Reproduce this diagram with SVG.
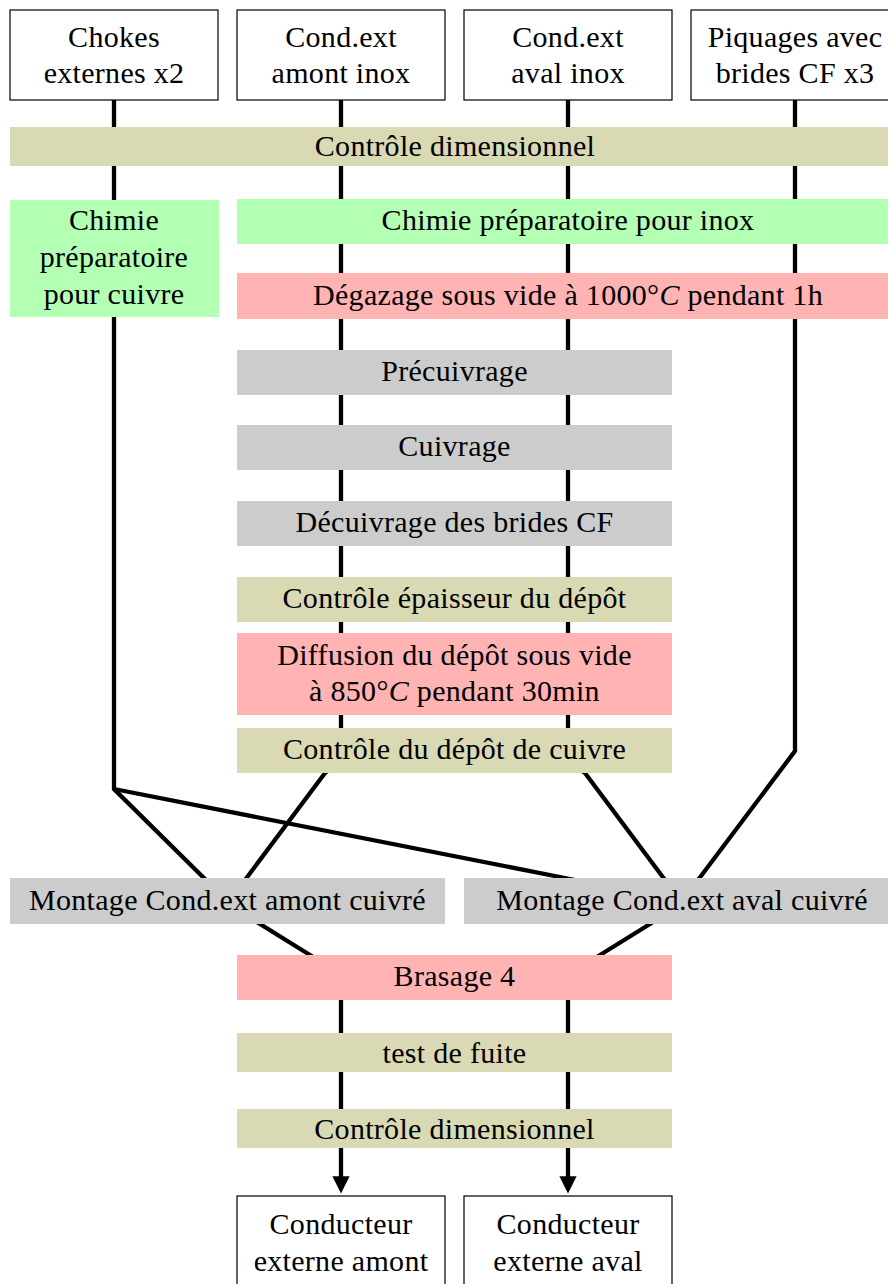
<svg xmlns="http://www.w3.org/2000/svg" width="888" height="1284" viewBox="0 0 888 1284" font-family="Liberation Serif" font-size="30" text-anchor="middle" letter-spacing="0.3">
<style>
.io{fill:#fff;stroke:#000;stroke-width:1.2}
.tan{fill:#d9d9b3}
.grn{fill:#b3ffb3}
.red{fill:#ffb3b3}
.gry{fill:#cccccc}
.ln{fill:none;stroke:#000;stroke-width:4.3;stroke-linejoin:miter}
</style>
<defs>
<marker id="ah" viewBox="0 0 10 10" refX="5.6" refY="5" markerWidth="5.3" markerHeight="4" markerUnits="strokeWidth" orient="auto">
<path d="M0,0 L10,5 L0,10 Z" fill="#000"/>
</marker>
</defs>
<rect width="888" height="1284" fill="#fff"/>
<g id="connectors">
<polyline class="ln" points="114,100 114,789 210,884"/>
<polyline class="ln" points="114,789 575,880"/>
<polyline class="ln" points="341,100 341,760 325,773 242,884"/>
<polyline class="ln" points="568,100 568,760 585,773 668,884"/>
<polyline class="ln" points="795,100 795,751 695,884"/>
<line class="ln" x1="252" y1="919" x2="318" y2="960"/>
<line class="ln" x1="658" y1="919" x2="592" y2="960"/>
<line class="ln" x1="341" y1="995" x2="341" y2="1186" marker-end="url(#ah)"/>
<line class="ln" x1="568" y1="995" x2="568" y2="1186" marker-end="url(#ah)"/>
</g>
<g id="n1"><rect class="io" x="10" y="10" width="208" height="90"/><text style="font-family:'Liberation Serif',serif !important" x="114" y="47">Chokes</text><text style="font-family:'Liberation Serif',serif !important" x="114" y="83">externes x2</text></g>
<g id="n2"><rect class="io" x="237" y="10" width="208" height="90"/><text style="font-family:'Liberation Serif',serif !important" x="341" y="47">Cond.ext</text><text style="font-family:'Liberation Serif',serif !important" x="341" y="83">amont inox</text></g>
<g id="n3"><rect class="io" x="464" y="10" width="208" height="90"/><text style="font-family:'Liberation Serif',serif !important" x="568" y="47">Cond.ext</text><text style="font-family:'Liberation Serif',serif !important" x="568" y="83">aval inox</text></g>
<g id="n4"><rect class="io" x="691" y="10" width="208" height="90"/><text style="font-family:'Liberation Serif',serif !important" x="795" y="47">Piquages avec</text><text style="font-family:'Liberation Serif',serif !important" x="795" y="83">brides CF x3</text></g>
<g id="ctrl1"><rect class="tan" x="10" y="127" width="890" height="39"/><text style="font-family:'Liberation Serif',serif !important" x="455" y="156">Contrôle dimensionnel</text></g>
<g id="chcu"><rect class="grn" x="10" y="200" width="209" height="117"/><text style="font-family:'Liberation Serif',serif !important" x="114" y="230">Chimie</text><text style="font-family:'Liberation Serif',serif !important" x="114" y="267">préparatoire</text><text style="font-family:'Liberation Serif',serif !important" x="114" y="304">pour cuivre</text></g>
<g id="chinox"><rect class="grn" x="237" y="199" width="663" height="45"/><text style="font-family:'Liberation Serif',serif !important" x="568" y="230">Chimie préparatoire pour inox</text></g>
<g id="degaz"><rect class="red" x="237" y="273" width="663" height="46"/><text style="font-family:'Liberation Serif',serif !important" x="568" y="305">Dégazage sous vide à 1000°<tspan font-style="italic">C</tspan> pendant 1h</text></g>
<g id="precu"><rect class="gry" x="237" y="350" width="435" height="45"/><text style="font-family:'Liberation Serif',serif !important" x="454.5" y="381">Précuivrage</text></g>
<g id="cuiv"><rect class="gry" x="237" y="425" width="435" height="45"/><text style="font-family:'Liberation Serif',serif !important" x="454.5" y="456">Cuivrage</text></g>
<g id="decu"><rect class="gry" x="237" y="501" width="435" height="45"/><text style="font-family:'Liberation Serif',serif !important" x="454.5" y="532">Décuivrage des brides CF</text></g>
<g id="ctrlep"><rect class="tan" x="237" y="577" width="435" height="45"/><text style="font-family:'Liberation Serif',serif !important" x="454.5" y="608">Contrôle épaisseur du dépôt</text></g>
<g id="diff"><rect class="red" x="237" y="633" width="435" height="82"/><text style="font-family:'Liberation Serif',serif !important" x="454.5" y="665">Diffusion du dépôt sous vide</text><text style="font-family:'Liberation Serif',serif !important" x="454.5" y="701">à 850°<tspan font-style="italic">C</tspan> pendant 30min</text></g>
<g id="ctrldep"><rect class="tan" x="237" y="728" width="435" height="45"/><text style="font-family:'Liberation Serif',serif !important" x="454.5" y="759">Contrôle du dépôt de cuivre</text></g>
<g id="mont1"><rect class="gry" x="10" y="878" width="435" height="46"/><text style="font-family:'Liberation Serif',serif !important" x="227.5" y="910">Montage Cond.ext amont cuivré</text></g>
<g id="mont2"><rect class="gry" x="464" y="878" width="436" height="46"/><text style="font-family:'Liberation Serif',serif !important" x="682" y="910">Montage Cond.ext aval cuivré</text></g>
<g id="bras"><rect class="red" x="237" y="955" width="435" height="45"/><text style="font-family:'Liberation Serif',serif !important" x="454.5" y="986">Brasage 4</text></g>
<g id="fuite"><rect class="tan" x="237" y="1033" width="435" height="39"/><text style="font-family:'Liberation Serif',serif !important" x="454.5" y="1063">test de fuite</text></g>
<g id="ctrl2"><rect class="tan" x="237" y="1109" width="435" height="39"/><text style="font-family:'Liberation Serif',serif !important" x="454.5" y="1139">Contrôle dimensionnel</text></g>
<g id="out1"><rect class="io" x="237" y="1196" width="208" height="100"/><text style="font-family:'Liberation Serif',serif !important" x="341" y="1234">Conducteur</text><text style="font-family:'Liberation Serif',serif !important" x="341" y="1271">externe amont</text></g>
<g id="out2"><rect class="io" x="464" y="1196" width="208" height="100"/><text style="font-family:'Liberation Serif',serif !important" x="568" y="1234">Conducteur</text><text style="font-family:'Liberation Serif',serif !important" x="568" y="1271">externe aval</text></g>
</svg>
